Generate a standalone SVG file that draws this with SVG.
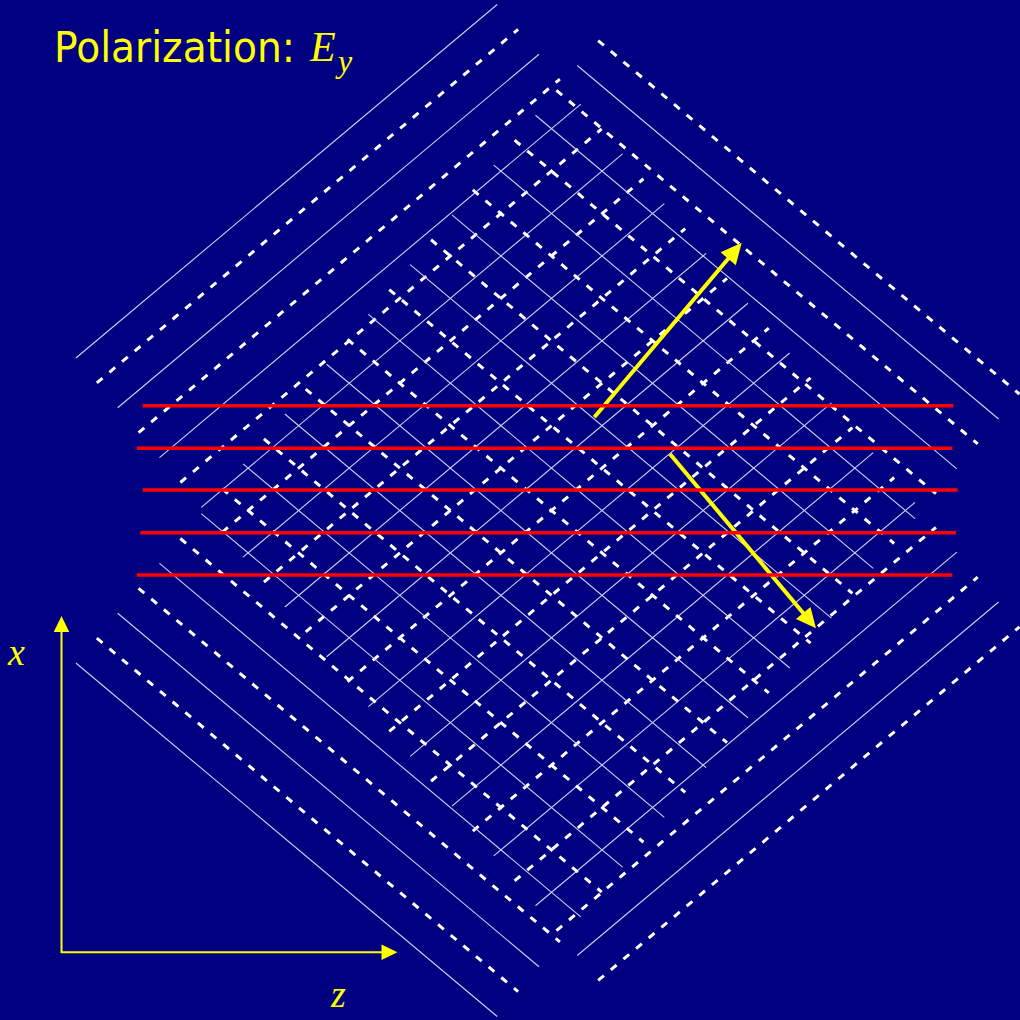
<svg xmlns="http://www.w3.org/2000/svg" width="1020" height="1020" viewBox="0 0 1020 1020">
<style>
.s{stroke:#d0d0f8;stroke-width:1.1;fill:none}
.d{stroke:#ffffff;stroke-width:3;stroke-dasharray:7.5 9;fill:none}
.r{stroke:#ff0000;stroke-width:3.5}
.y{stroke:#ffff00;fill:none}
.yf{fill:#ffff00}
.lab{font-family:"Liberation Serif","Times New Roman",serif;font-style:italic;fill:#ffff00}
</style>
<rect x="0" y="0" width="1020" height="1020" fill="#000080"/>
<g id="waveA" transform="translate(75.9 358) rotate(-40)">
<line class="s" x1="0" y1="0" x2="550" y2="0"/>
<line class="d" x1="0" y1="32.5" x2="550" y2="32.5"/>
<line class="s" x1="0" y1="65" x2="550" y2="65"/>
<line class="d" x1="0" y1="97.5" x2="550" y2="97.5"/>
<line class="s" x1="0" y1="130" x2="550" y2="130"/>
<line class="d" x1="0" y1="162.5" x2="550" y2="162.5"/>
<line class="s" x1="0" y1="195" x2="550" y2="195"/>
<line class="d" x1="0" y1="227.5" x2="550" y2="227.5"/>
<line class="s" x1="0" y1="260" x2="550" y2="260"/>
<line class="d" x1="0" y1="292.5" x2="550" y2="292.5"/>
<line class="s" x1="0" y1="325" x2="550" y2="325"/>
<line class="d" x1="0" y1="357.5" x2="550" y2="357.5"/>
<line class="s" x1="0" y1="390" x2="550" y2="390"/>
<line class="d" x1="0" y1="422.5" x2="550" y2="422.5"/>
<line class="s" x1="0" y1="455" x2="550" y2="455"/>
<line class="d" x1="0" y1="487.5" x2="550" y2="487.5"/>
<line class="s" x1="0" y1="520" x2="550" y2="520"/>
<line class="d" x1="0" y1="552.5" x2="550" y2="552.5"/>
<line class="s" x1="0" y1="585" x2="550" y2="585"/>
<line class="d" x1="0" y1="617.5" x2="550" y2="617.5"/>
<line class="s" x1="0" y1="650" x2="550" y2="650"/>
<line class="d" x1="0" y1="682.5" x2="550" y2="682.5"/>
<line class="s" x1="0" y1="715" x2="550" y2="715"/>
<line class="d" x1="0" y1="747.5" x2="550" y2="747.5"/>
<line class="s" x1="0" y1="780" x2="550" y2="780"/>
<line class="d" x1="0" y1="812.5" x2="550" y2="812.5"/>
</g>
<g id="waveB" transform="translate(75.9 663) rotate(40)">
<line class="s" x1="0" y1="0" x2="550" y2="0"/>
<line class="d" x1="0" y1="-32.5" x2="550" y2="-32.5"/>
<line class="s" x1="0" y1="-65" x2="550" y2="-65"/>
<line class="d" x1="0" y1="-97.5" x2="550" y2="-97.5"/>
<line class="s" x1="0" y1="-130" x2="550" y2="-130"/>
<line class="d" x1="0" y1="-162.5" x2="550" y2="-162.5"/>
<line class="s" x1="0" y1="-195" x2="550" y2="-195"/>
<line class="d" x1="0" y1="-227.5" x2="550" y2="-227.5"/>
<line class="s" x1="0" y1="-260" x2="550" y2="-260"/>
<line class="d" x1="0" y1="-292.5" x2="550" y2="-292.5"/>
<line class="s" x1="0" y1="-325" x2="550" y2="-325"/>
<line class="d" x1="0" y1="-357.5" x2="550" y2="-357.5"/>
<line class="s" x1="0" y1="-390" x2="550" y2="-390"/>
<line class="d" x1="0" y1="-422.5" x2="550" y2="-422.5"/>
<line class="s" x1="0" y1="-455" x2="550" y2="-455"/>
<line class="d" x1="0" y1="-487.5" x2="550" y2="-487.5"/>
<line class="s" x1="0" y1="-520" x2="550" y2="-520"/>
<line class="d" x1="0" y1="-552.5" x2="550" y2="-552.5"/>
<line class="s" x1="0" y1="-585" x2="550" y2="-585"/>
<line class="d" x1="0" y1="-617.5" x2="550" y2="-617.5"/>
<line class="s" x1="0" y1="-650" x2="550" y2="-650"/>
<line class="d" x1="0" y1="-682.5" x2="550" y2="-682.5"/>
<line class="s" x1="0" y1="-715" x2="550" y2="-715"/>
<line class="d" x1="0" y1="-747.5" x2="550" y2="-747.5"/>
<line class="s" x1="0" y1="-780" x2="550" y2="-780"/>
<line class="d" x1="0" y1="-812.5" x2="550" y2="-812.5"/>
</g>
<g id="arrows">
<line class="y" x1="594.3" y1="417.3" x2="729" y2="257.8" stroke-width="4"/>
<polygon class="yf" points="741.7,242.7 735.8,265.2 720.6,252.3"/>
<line class="y" x1="670" y1="454" x2="804" y2="614" stroke-width="4"/>
<polygon class="yf" points="816,628.3 810.5,606.9 795.9,619.1"/>
</g>
<g id="planes">
<line class="r" x1="142.7" y1="405.7" x2="953.3" y2="405.7"/>
<line class="r" x1="136.7" y1="448.3" x2="952.3" y2="448.3"/>
<line class="r" x1="142.7" y1="490" x2="957.7" y2="490" stroke-width="3"/>
<line class="r" x1="140.3" y1="532.7" x2="956" y2="532.7" stroke-width="3"/>
<line class="r" x1="136.7" y1="575" x2="952.3" y2="575" stroke-width="3"/>
</g>
<g id="axes">
<polyline class="y" points="61.5,630 61.5,952.3 383,952.3" stroke-width="2"/>
<polygon class="yf" points="61.5,616 69.3,632 53.7,632"/>
<polygon class="yf" points="397.5,952.3 381.5,944.5 381.5,960.1"/>
<text class="lab" x="8" y="665" font-size="38">x</text>
<text class="lab" x="331" y="1007" font-size="38">z</text>
</g>
<g id="title">
<text x="54" y="62" font-family="DejaVu Sans, sans-serif" font-size="42" fill="#ffff00" textLength="241" lengthAdjust="spacingAndGlyphs">Polarization:</text>
<text class="lab" x="310" y="61" font-size="42">E</text>
<text class="lab" x="338" y="72" font-size="32">y</text>
</g>
</svg>
